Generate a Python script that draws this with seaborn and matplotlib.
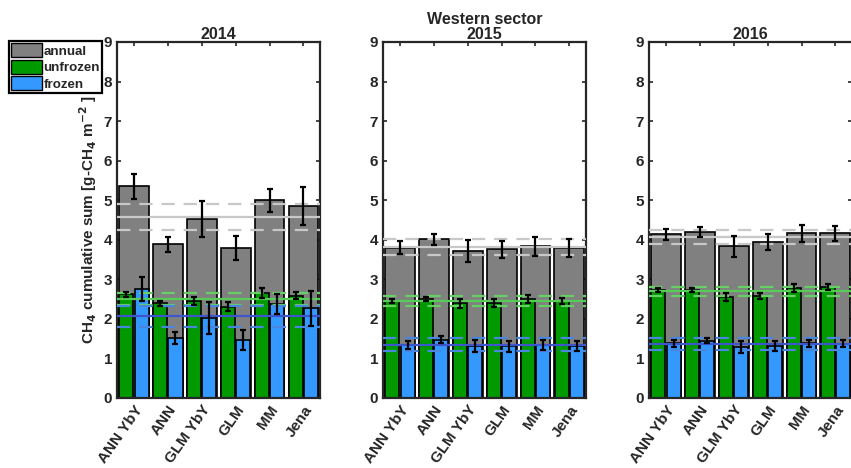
import numpy as np
import pandas as pd
import matplotlib
matplotlib.use("Agg")
import matplotlib.pyplot as plt
import seaborn as sns
from matplotlib.patches import Patch

models = ["ANN YbY", "ANN", "GLM YbY", "GLM", "MM", "Jena"]
years = ["2014", "2015", "2016"]

# cumulative sums per year, one value per model
annual = {
    "2014": [5.35, 3.89, 4.53, 3.80, 5.00, 4.86],
    "2015": [3.80, 4.01, 3.72, 3.76, 3.84, 3.80],
    "2016": [4.14, 4.19, 3.83, 3.94, 4.16, 4.16],
}
annual_err = {
    "2014": [0.32, 0.19, 0.45, 0.30, 0.29, 0.48],
    "2015": [0.16, 0.13, 0.27, 0.22, 0.24, 0.23],
    "2016": [0.14, 0.12, 0.27, 0.20, 0.21, 0.20],
}
unfrozen = {
    "2014": [2.62, 2.39, 2.46, 2.31, 2.65, 2.59],
    "2015": [2.45, 2.50, 2.39, 2.39, 2.50, 2.45],
    "2016": [2.73, 2.73, 2.55, 2.58, 2.77, 2.80],
}
unfrozen_err = {
    "2014": [0.07, 0.06, 0.10, 0.12, 0.12, 0.10],
    "2015": [0.06, 0.06, 0.11, 0.10, 0.11, 0.07],
    "2016": [0.05, 0.05, 0.10, 0.07, 0.10, 0.08],
}
frozen = {
    "2014": [2.75, 1.51, 2.02, 1.47, 2.37, 2.27],
    "2015": [1.34, 1.47, 1.31, 1.31, 1.34, 1.31],
    "2016": [1.38, 1.45, 1.28, 1.31, 1.38, 1.37],
}
frozen_err = {
    "2014": [0.31, 0.15, 0.41, 0.26, 0.25, 0.44],
    "2015": [0.09, 0.09, 0.16, 0.14, 0.13, 0.13],
    "2016": [0.08, 0.07, 0.15, 0.12, 0.09, 0.09],
}
# spread shown by the dashed reference lines
annual_band = {"2014": 0.33, "2015": 0.20, "2016": 0.18}
unfrozen_band = {"2014": 0.15, "2015": 0.13, "2016": 0.12}
frozen_band = {"2014": 0.27, "2015": 0.17, "2016": 0.15}

GRAY = "#808080"
GREEN = "#009a00"
BLUE = "#3399ff"

sns.set_style("ticks")
plt.rcParams["font.family"] = ["Liberation Sans", "DejaVu Sans"]
plt.rcParams["font.weight"] = "bold"
plt.rcParams["axes.labelweight"] = "bold"
plt.rcParams["axes.titleweight"] = "bold"

fig = plt.figure(figsize=(8.51, 4.68), dpi=100)
lefts = [0.1375, 0.450, 0.7626]

for i, yr in enumerate(years):
    ax = fig.add_axes([lefts[i], 0.1496, 0.2390, 0.7607])

    sns.barplot(x=models, y=annual[yr], order=models, color=GRAY,
                saturation=1, width=0.88, edgecolor="black", linewidth=1.2,
                errorbar=None, ax=ax)

    df = pd.DataFrame({
        "model": models * 2,
        "value": unfrozen[yr] + frozen[yr],
        "season": ["unfrozen"] * 6 + ["frozen"] * 6,
    })
    sns.barplot(data=df, x="model", y="value", hue="season", order=models,
                hue_order=["unfrozen", "frozen"],
                palette={"unfrozen": GREEN, "frozen": BLUE}, saturation=1,
                width=0.9, gap=0.08, edgecolor="black", linewidth=1.2,
                errorbar=None, legend=False, ax=ax)

    # mean lines with dashed spread
    for vals, band, c_solid, c_dash in [
        (annual[yr], annual_band[yr], "#c8c8c8", "#c8c8c8"),
        (unfrozen[yr], unfrozen_band[yr], "#55cc55", "#66d066"),
        (frozen[yr], frozen_band[yr], "#3f55cc", "#4a86dd"),
    ]:
        m = np.mean(vals)
        ax.axhline(m, color=c_solid, lw=1.6, zorder=4)
        ax.axhline(m + band, color=c_dash, lw=1.6, ls=(0, (6, 4)), zorder=4)
        ax.axhline(m - band, color=c_dash, lw=1.6, ls=(0, (6, 4)), zorder=4)

    x = np.arange(len(models))
    for offs, vals, errs in [
        (0.0, annual[yr], annual_err[yr]),
        (-0.225, unfrozen[yr], unfrozen_err[yr]),
        (0.225, frozen[yr], frozen_err[yr]),
    ]:
        ax.errorbar(x + offs, vals, yerr=errs, fmt="none", ecolor="black",
                    elinewidth=1.6, capsize=2.5, capthick=1.6, zorder=5)

    ax.set_xlim(-0.5, 5.5)
    ax.set_ylim(0, 9)
    ax.set_yticks(range(10))
    ax.set_xlabel("")
    ax.set_ylabel("")
    ax.tick_params(direction="in", top=True, right=True, length=3,
                   width=1.2, labelsize=11)
    ax.set_xticks(x)
    ax.set_xticklabels(models, rotation=55, ha="right",
                       rotation_mode="anchor", fontweight="bold")
    for lab in ax.get_yticklabels():
        lab.set_fontweight("bold")
    for sp in ax.spines.values():
        sp.set_visible(True)
        sp.set_linewidth(1.6)
        sp.set_color("#262626")
    if yr == "2015":
        ax.set_title("Western sector\n2015", fontsize=11.5, pad=2,
                     linespacing=1.0)
    else:
        ax.set_title(yr, fontsize=11.5, pad=2)
    if i == 0:
        ax.set_ylabel("CH$_4$ cumulative sum [g-CH$_4$ m$^{-2}$ ]",
                      fontsize=11, labelpad=3)

handles = [Patch(facecolor=GRAY, edgecolor="black", label="annual"),
           Patch(facecolor=GREEN, edgecolor="black", label="unfrozen"),
           Patch(facecolor=BLUE, edgecolor="black", label="frozen")]
leg = fig.legend(handles=handles, loc="upper left",
                 bbox_to_anchor=(0.011, 0.912), fancybox=False,
                 framealpha=1, edgecolor="black", fontsize=9.6,
                 handlelength=2.3, handleheight=1.25, handletextpad=0.1,
                 labelspacing=0.15, borderpad=0.15, borderaxespad=0)
leg.get_frame().set_linewidth(1.6)

fig.savefig("out.png", dpi=100)
